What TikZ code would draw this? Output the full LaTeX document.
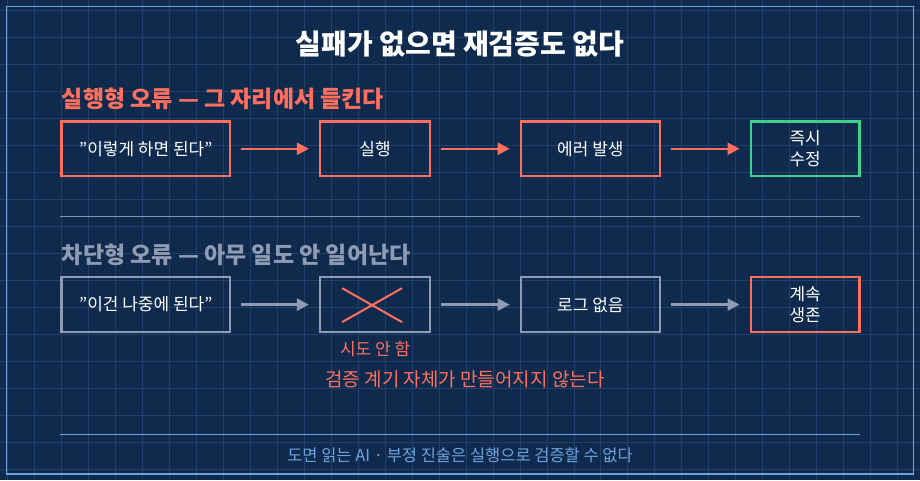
\documentclass[tikz,border=0pt]{standalone}
\usepackage{fontspec}
\setmainfont{Noto Sans CJK KR}
\usetikzlibrary{arrows.meta}
\definecolor{bgnavy}{HTML}{0F2A4C}
\definecolor{gridblue}{HTML}{1F4068}
\definecolor{coral}{HTML}{FF6F5E}
\definecolor{mint}{HTML}{3FD08F}
\definecolor{slate}{HTML}{8E9BB2}
\definecolor{sky}{HTML}{6FA3E0}
\tikzset{
  box/.style={draw,line width=2.5pt,inner sep=0pt,text=white,font=\fontsize{17}{21}\selectfont,align=center},
  flow/.style={-{Triangle[length=12pt,width=12pt]},line width=2.5pt},
}
\begin{document}
\begin{tikzpicture}[x=1pt,y=-1pt]

    % background with grid and frame
    \fill [bgnavy] (0,0) rectangle (920,480);
    \foreach \x in {7,34,...,920} \draw [gridblue,line width=0.8pt] (\x,0) -- (\x,480);
    \foreach \y in {10,37,...,480} \draw [gridblue,line width=0.8pt] (0,\y) -- (920,\y);
    \draw [sky,line width=1.5pt] (6,6) rectangle (914,474);
    \useasboundingbox (0,0) rectangle (920,480);

    % title
    \node (title) at (460,44) [text=white,font=\fontsize{28}{32}\selectfont\bfseries] {실패가 없으면 재검증도 없다};

    % execution-type error
    \node (headA) at (58,99) [anchor=west,text=coral,font=\fontsize{23}{27}\selectfont\bfseries] {실행형 오류 — 그 자리에서 들킨다};
    \foreach \n/\xa/\xb/\t in {a1/61/230/"이렇게 하면 된다", a2/320/430/실행, a3/521/660/에러 발생}
      \node (\n) [box,draw=coral,minimum width={\xb-\xa},minimum height=55] at ({(\xa+\xb)/2},148.5) {\t};
    \node (a4) [box,draw=mint,minimum width=109,minimum height=55] at (805.5,148.5) {즉시\\수정};
    \foreach \s/\e in {a1/a2,a2/a3,a3/a4}
      \draw [flow,coral] (\s.east) ++(10,0) -- ([xshift=-10pt]\e.west);

    \draw [gridblue!60!slate!70,line width=1pt] (60,216) -- (860,216);

    % blocking-type error
    \node (headB) at (58,255) [anchor=west,text=slate,font=\fontsize{23}{27}\selectfont\bfseries] {차단형 오류 — 아무 일도 안 일어난다};
    \foreach \n/\xa/\xb/\t in {b1/61/230/"이건 나중에 된다", b2/320/430/{}, b3/521/660/로그 없음}
      \node (\n) [box,draw=slate,minimum width={\xb-\xa},minimum height=55] at ({(\xa+\xb)/2},304.5) {\t};
    \node (b4) [box,draw=coral,minimum width=109,minimum height=55] at (805.5,304.5) {계속\\생존};
    \foreach \s/\e in {b1/b2,b2/b3,b3/b4}
      \draw [flow,slate] (\s.east) ++(10,0) -- ([xshift=-10pt]\e.west);
    \draw [coral,line width=2pt] (342,288) -- (402,322) (342,322) -- (402,288);

    \node (skip) at (375,349) [text=coral,font=\fontsize{17}{20}\selectfont] {시도 안 함};
    \node (note) at (465,379) [text=coral,font=\fontsize{19}{22}\selectfont] {검증 계기 자체가 만들어지지 않는다};

    % footer
    \draw [sky,line width=1pt] (60,434) -- (860,434);
    \node (foot) at (460,455) [text=sky,font=\fontsize{16.5}{20}\selectfont] {도면 읽는 AI · 부정 진술은 실행으로 검증할 수 없다};

\end{tikzpicture}
\end{document}
